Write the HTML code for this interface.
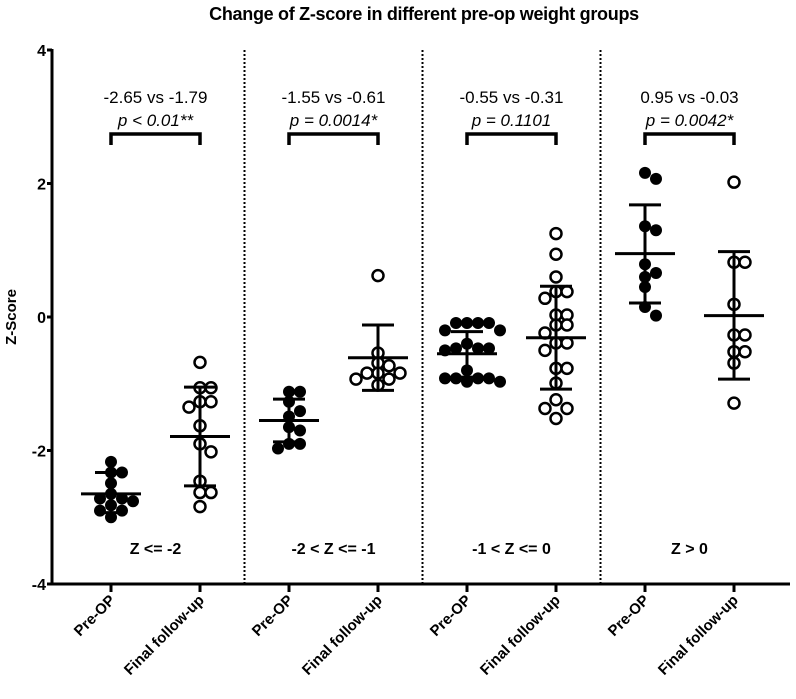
<!DOCTYPE html>
<html><head><meta charset="utf-8"><style>
html,body{margin:0;padding:0;background:#fff;width:796px;height:699px;overflow:hidden}
svg{display:block;font-family:"Liberation Sans",Arial,sans-serif}
</style></head><body>
<svg id="chart" width="796" height="699" viewBox="0 0 796 699">
<text x="424" y="20" text-anchor="middle" font-weight="bold" font-size="18" letter-spacing="-0.3">Change of Z-score in different pre-op weight groups</text>
<g id="axes"></g><g id="marks"></g><g id="annot"></g>
</svg>
<script>
const categories = ["Pre-OP","Final follow-up","Pre-OP","Final follow-up","Pre-OP","Final follow-up","Pre-OP","Final follow-up"];
const groupLabels = ["Z <= -2","-2 < Z <= -1","-1 < Z <= 0","Z > 0"];
const compareText = ["-2.65 vs -1.79","-1.55 vs -0.61","-0.55 vs -0.31","0.95 vs -0.03"];
const pText = ["p < 0.01**","p = 0.0014*","p = 0.1101","p = 0.0042*"];
const yTicks = [4,2,0,-2,-4];
const means = [-2.65,-1.79,-1.55,-0.61,-0.55,-0.31,0.95,0.02];
const sdHigh = [-2.33,-1.05,-1.23,-0.12,-0.22,0.46,1.68,0.98];
const sdLow = [-2.93,-2.53,-1.87,-1.10,-0.90,-1.08,0.21,-0.93];
const s0 = [-2.17,-2.33,-2.33,-2.49,-2.65,-2.72,-2.72,-2.76,-2.82,-2.9,-2.9,-3.0];
const s1 = [-0.68,-1.06,-1.06,-1.27,-1.27,-1.35,-1.63,-1.9,-2.02,-2.46,-2.63,-2.63,-2.84];
const s2 = [-1.12,-1.12,-1.27,-1.41,-1.49,-1.65,-1.70,-1.9,-1.9,-1.97];
const s3 = [0.62,-0.54,-0.69,-0.73,-0.84,-0.84,-0.84,-0.93,-0.93,-1.02];
const s4 = [-0.09,-0.09,-0.09,-0.09,-0.2,-0.2,-0.4,-0.47,-0.47,-0.47,-0.5,-0.8,-0.92,-0.92,-0.92,-0.92,-0.97,-0.97];
const s5 = [1.25,0.94,0.6,0.38,0.38,0.28,0.03,0.03,-0.12,-0.12,-0.24,-0.39,-0.39,-0.5,-0.77,-0.77,-0.99,-1.24,-1.37,-1.37,-1.52];
const s6 = [2.16,2.07,1.36,1.3,0.79,0.66,0.6,0.45,0.15,0.02];
const s7 = [2.02,0.82,0.82,0.19,-0.27,-0.27,-0.52,-0.52,-0.69,-1.29];
const series = [s0,s1,s2,s3,s4,s5,s6,s7];

const NS="http://www.w3.org/2000/svg";
const X0=52, Y0=584;
const y = v => 317 - v*66.75;
const x = i => 111 + i*89;
function mk(tag, attrs, parent){const e=document.createElementNS(NS,tag);for(const k in attrs)e.setAttribute(k,attrs[k]);parent.appendChild(e);return e;}
const axes=document.getElementById('axes'), marks=document.getElementById('marks'), annot=document.getElementById('annot');

let a=mk('line',{x1:X0,y1:y(4)-1,x2:X0,y2:Y0+1.5,stroke:'#000','stroke-width':3},axes);


a=mk('line',{x1:X0-1.5,y1:Y0,x2:790,y2:Y0,stroke:'#000','stroke-width':3},axes);


yTicks.forEach(t=>{
  const l=mk('line',{x1:X0-5,y1:y(t),x2:X0,y2:y(t),stroke:'#000','stroke-width':3},axes);
  
  
  const tx=mk('text',{x:X0-6,y:y(t)+6,'text-anchor':'end','font-weight':'bold','font-size':16},axes);
  tx.textContent=t;
  
  
});
const yt=mk('text',{x:0,y:0,transform:'translate(16,317) rotate(-90)','text-anchor':'middle','font-weight':'bold','font-size':15},axes);
yt.textContent='Z-Score';


[0,1,2].forEach(k=>{
  const d=mk('line',{x1:x(2*k+1)+44.5,y1:y(4),x2:x(2*k+1)+44.5,y2:Y0,stroke:'#000','stroke-width':2,'stroke-dasharray':'2,2'},axes);
  
  
});
categories.forEach((c,i)=>{
  const l=mk('line',{x1:x(i),y1:Y0,x2:x(i),y2:Y0+8,stroke:'#000','stroke-width':3},axes);
  
  
  const t=mk('text',{x:0,y:0,transform:`translate(${x(i)+5},${Y0+17}) rotate(-45)`,'text-anchor':'end','font-weight':'bold','font-size':15},axes);
  t.textContent=c;
  
  
});
series.forEach((vals,i)=>{
  const filled = i%2===0;
  const placed=[];
  vals.forEach((v,j)=>{
    const cy=y(v);
    let best=0;
    const cands=[0,11,-11,22,-22,33,-33,16,-16,5,-5];
    for(const o of cands){
      if(placed.every(p=>Math.hypot(p[0]-o,p[1]-cy)>=10)){best=o;break;}
    }
    placed.push([best,cy]);
    const c=mk('circle',{cx:x(i)+best,cy:cy,r:filled?6:5.5,fill:filled?'#000':'#fff',stroke:'#000','stroke-width':filled?0:2.5},marks);
    
    
  });
  const g=mk('g',{stroke:'#000','stroke-width':3},marks);
  
  
  mk('line',{x1:x(i)-30,x2:x(i)+30,y1:y(means[i]),y2:y(means[i])},g);
  mk('line',{x1:x(i),x2:x(i),y1:y(sdHigh[i]),y2:y(sdLow[i])},g);
  mk('line',{x1:x(i)-16,x2:x(i)+16,y1:y(sdHigh[i]),y2:y(sdHigh[i])},g);
  mk('line',{x1:x(i)-16,x2:x(i)+16,y1:y(sdLow[i]),y2:y(sdLow[i])},g);
});
groupLabels.forEach((g,k)=>{
  const cx=(x(2*k)+x(2*k+1))/2;
  let t=mk('text',{x:cx,y:554,'text-anchor':'middle','font-weight':'bold','font-size':16},annot);
  t.textContent=g;
  
  
  t=mk('text',{x:cx,y:103,'text-anchor':'middle','font-size':17},annot);
  t.textContent=compareText[k];
  
  
  t=mk('text',{x:cx,y:126,'text-anchor':'middle','font-size':17,'font-style':'italic'},annot);
  t.textContent=pText[k];
  
  
  const b=mk('path',{d:`M${x(2*k)},145 V134 H${x(2*k+1)} V145`,fill:'none',stroke:'#000','stroke-width':3.5},annot);
  
  
});
</script>
</body></html>
